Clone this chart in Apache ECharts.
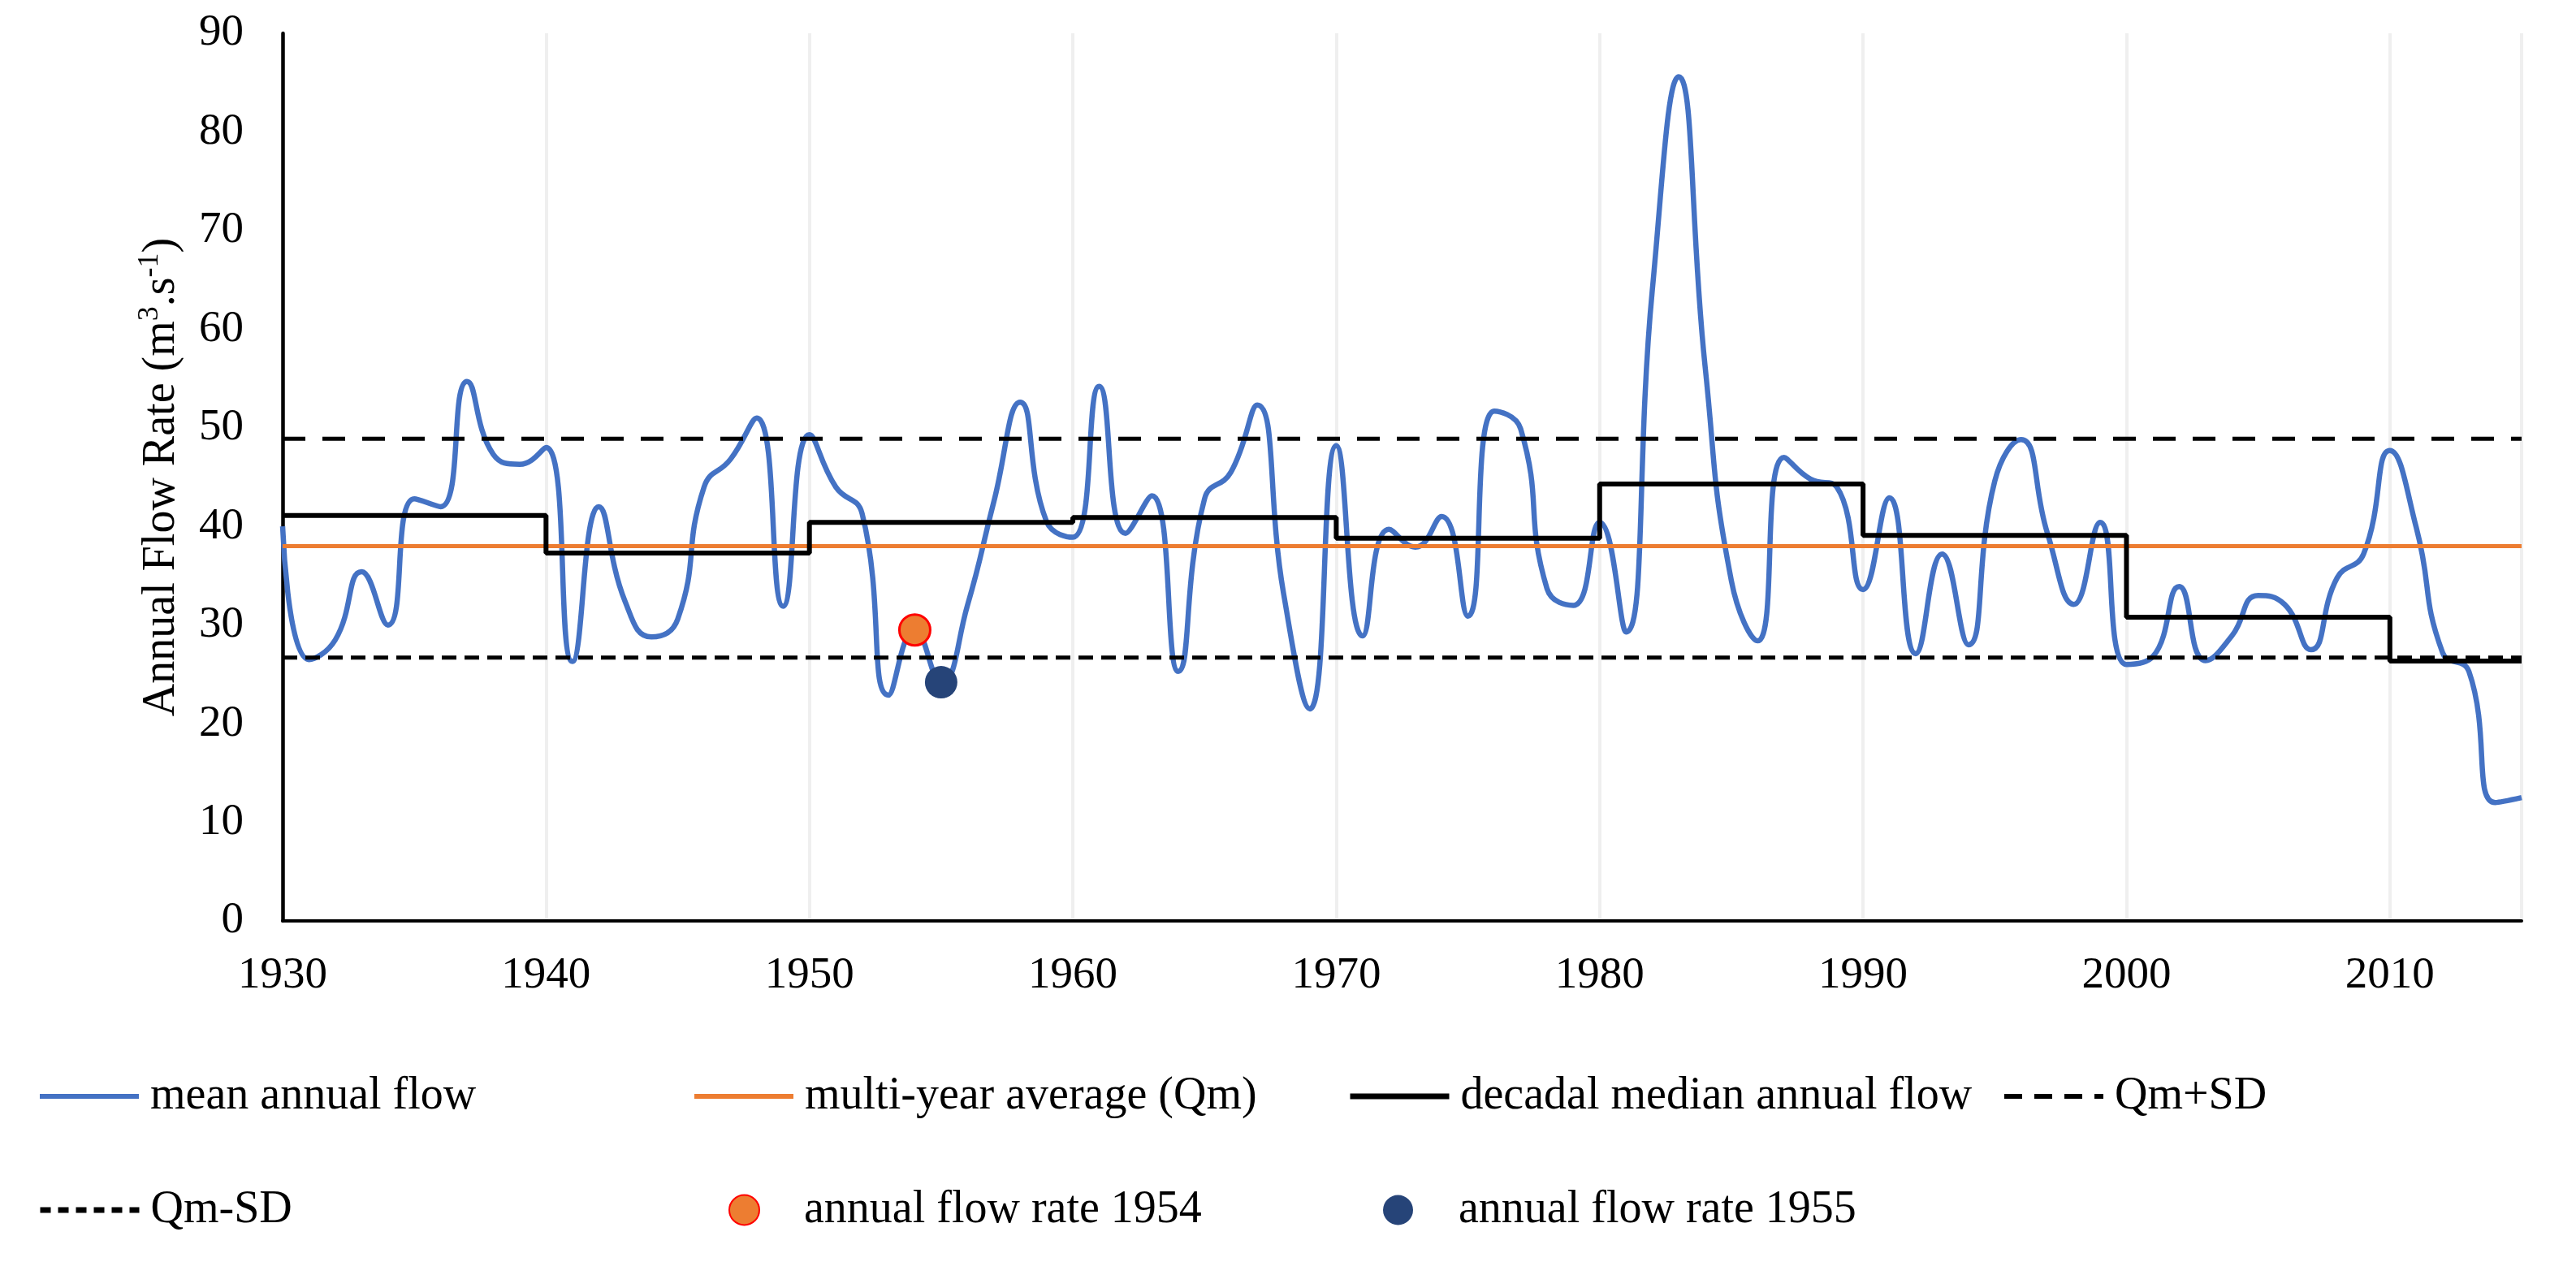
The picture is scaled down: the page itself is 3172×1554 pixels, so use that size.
<!DOCTYPE html>
<html>
<head>
<meta charset="utf-8">
<script src="https://cdn.jsdelivr.net/npm/echarts@6/dist/echarts.min.js"></script>
<style>
html,body{margin:0;padding:0;background:#ffffff;}
#chart{width:3172px;height:1554px;}
</style>
</head>
<body>
<div id="chart"></div>
<script>
// ---------------- data ----------------
const years = [1930,1931,1932,1933,1934,1935,1936,1937,1938,1939,
               1940,1941,1942,1943,1944,1945,1946,1947,1948,1949,
               1950,1951,1952,1953,1954,1955,1956,1957,1958,1959,
               1960,1961,1962,1963,1964,1965,1966,1967,1968,1969,
               1970,1971,1972,1973,1974,1975,1976,1977,1978,1979,
               1980,1981,1982,1983,1984,1985,1986,1987,1988,1989,
               1990,1991,1992,1993,1994,1995,1996,1997,1998,1999,
               2000,2001,2002,2003,2004,2005,2006,2007,2008,2009,
               2010,2011,2012,2013,2014,2015];
const meanAnnualFlow = [40.0,26.5,28.5,35.4,30.0,42.8,42.0,54.7,47.3,46.3,
                        48.0,26.3,42.0,32.4,28.8,30.6,44.0,46.8,51.0,31.9,
                        49.3,44.0,41.3,22.9,29.5,24.2,32.0,42.5,52.6,40.5,
                        38.9,54.2,39.3,43.1,25.3,42.8,45.5,52.3,33.2,21.5,
                        48.2,28.9,39.7,37.9,41.0,30.9,51.7,49.9,33.7,32.0,
                        40.4,29.3,64.0,85.6,56.3,34.5,28.4,47.0,44.8,44.0,
                        33.6,42.9,27.1,37.2,28.0,44.6,48.8,39.3,32.1,40.4,
                        26.0,26.8,33.9,26.4,28.9,33.0,32.1,27.5,34.8,37.2,
                        47.7,39.9,27.2,25.3,12.0,12.5];
const decadeStarts = [1930,1940,1950,1960,1970,1980,1990,2000,2010];
const decadalMedian = [41.1,37.3,40.4,40.9,38.8,44.3,39.1,30.8,26.35];
const periodEnd = 2015;
const qmValue = 38.0;
const qmPlusSD = 48.9;
const qmMinusSD = 26.7;
const highlight1954 = [1954, 29.5];
const highlight1955 = [1955, 24.2];
const xTickStep = 10;
const yTickStep = 10;
const yMax = 90;

// ---------------- build series data ----------------
const flowData = years.map((y, i) => [y, meanAnnualFlow[i]]);
const stepData = decadeStarts.map((y, i) => [y, decadalMedian[i]]);
stepData.push([periodEnd, decadalMedian[decadalMedian.length - 1]]);
const hLine = v => [[years[0], v], [periodEnd, v]];

const FONT = 'Liberation Serif';
function txt(pad) {
  return {fontFamily: FONT, fontSize: 56, color: '#000', lineHeight: 60, padding: [0, 0, 0, pad]};
}

function lineLegend(name, left, top, lineStyle) {
  return {
    data: [name], left: left, top: top, padding: 0, orient: 'horizontal',
    itemWidth: 122, itemHeight: 14,
    itemStyle: {color: 'transparent', borderWidth: 0, opacity: 0},
    lineStyle: lineStyle,
    textStyle: txt(9), selectedMode: false
  };
}
function dotLegend(name, left, top, pad) {
  return {
    data: [name], left: left, top: top, padding: 0,
    itemWidth: 37, itemHeight: 37,
    textStyle: txt(pad), selectedMode: false
  };
}

const chart = echarts.init(document.getElementById('chart'), null, {renderer: 'canvas'});
chart.setOption({
  backgroundColor: '#ffffff',
  animation: false,
  grid: {left: 348, right: 67, top: 41, bottom: 420, containLabel: false},
  xAxis: {
    type: 'value', min: years[0], max: periodEnd, interval: xTickStep,
    axisLine: {show: true, onZero: false, lineStyle: {color: '#000', width: 4}},
    axisTick: {show: false},
    splitLine: {show: true, lineStyle: {color: '#efefef', width: 4}},
    axisLabel: {fontFamily: FONT, fontSize: 55, lineHeight: 55, color: '#000', margin: 40,
                showMaxLabel: false, formatter: v => String(v)}
  },
  yAxis: {
    type: 'value', min: 0, max: yMax, interval: yTickStep,
    axisLine: {show: true, lineStyle: {color: '#000', width: 4.5}},
    axisTick: {show: false},
    splitLine: {show: false},
    axisLabel: {fontFamily: FONT, fontSize: 55, color: '#000', margin: 48},
    name: '{n|Annual Flow Rate (m}{s|3}{n|.s}{s|-1}{n|)}',
    nameLocation: 'middle', nameRotate: 90, nameGap: 117,
    nameTextStyle: {
      rich: {
        n: {fontFamily: FONT, fontSize: 56, color: '#000', lineHeight: 64},
        s: {fontFamily: FONT, fontSize: 36, color: '#000', lineHeight: 38, verticalAlign: 'top'}
      }
    }
  },
  legend: [
    lineLegend('mean annual flow', 46, 1320, {color: '#4472C4', width: 6, type: 'solid'}),
    lineLegend('multi-year average (Qm)', 852, 1320, {color: '#ED7D31', width: 6, type: 'solid'}),
    lineLegend('decadal median annual flow', 1659, 1320, {color: '#000', width: 7, type: 'solid'}),
    lineLegend('Qm+SD', 2465, 1320, {color: '#000', width: 6, type: [22, 15]}),
    lineLegend('Qm-SD', 46, 1460, {color: '#000', width: 7, type: [13, 9]}),
    dotLegend('annual flow rate 1954', 897, 1460, 50),
    dotLegend('annual flow rate 1955', 1703, 1460, 51)
  ],
  series: [
    {
      name: 'mean annual flow', type: 'line', data: flowData, smooth: 0.5,
      symbol: 'none', z: 2,
      lineStyle: {color: '#4472C4', width: 6.5}, itemStyle: {color: '#4472C4'}
    },
    {
      name: 'multi-year average (Qm)', type: 'line', data: hLine(qmValue),
      symbol: 'none', z: 3,
      lineStyle: {color: '#ED7D31', width: 5}, itemStyle: {color: '#ED7D31'}
    },
    {
      name: 'decadal median annual flow', type: 'line', data: stepData, step: 'end',
      symbol: 'none', z: 4,
      lineStyle: {color: '#000000', width: 6}, itemStyle: {color: '#000000'}
    },
    {
      name: 'Qm+SD', type: 'line', data: hLine(qmPlusSD),
      symbol: 'none', z: 4,
      lineStyle: {color: '#000000', width: 5, type: [28, 21]}, itemStyle: {color: '#000000'}
    },
    {
      name: 'Qm-SD', type: 'line', data: hLine(qmMinusSD),
      symbol: 'none', z: 4,
      lineStyle: {color: '#000000', width: 5, type: [18, 10]}, itemStyle: {color: '#000000'}
    },
    {
      name: 'annual flow rate 1954', type: 'scatter', data: [highlight1954],
      symbol: 'circle', symbolSize: 38, z: 6,
      itemStyle: {color: '#ED7D31', borderColor: '#FF0000', borderWidth: 3, opacity: 1}
    },
    {
      name: 'annual flow rate 1955', type: 'scatter', data: [highlight1955],
      symbol: 'circle', symbolSize: 40, z: 6,
      itemStyle: {color: '#264478', opacity: 1}
    }
  ]
});
</script>
</body>
</html>
